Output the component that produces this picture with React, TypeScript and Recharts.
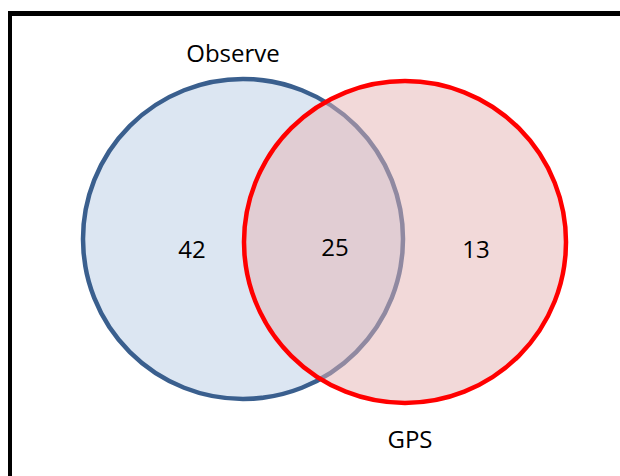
import { ScatterChart, Scatter, XAxis, YAxis } from "recharts";

// chart area, in its own units (1 unit = 1px here)
const W = 608;
const H = 460;

const sets = ["Observe", "GPS"];
const setCenters = [
  { x: 231, y: 223 },
  { x: 393, y: 226 },
];
const setRadius = [160, 161];
const setStroke = ["#3A5F8E", "#FF0000"];
const setFill = ["#DCE6F2", "#E6B4B3"];
const setFillOpacity = [1, 0.5];

const setLabelPos = [
  { x: 221, y: 46 },
  { x: 398, y: 432 },
];

const regionCounts = [42, 25, 13];
const regionPos = [
  { x: 180, y: 242 },
  { x: 323, y: 240 },
  { x: 464, y: 242 },
];

const circles = sets.map((name, i) => ({
  name,
  x: setCenters[i].x,
  y: setCenters[i].y,
  r: setRadius[i],
  stroke: setStroke[i],
  fill: setFill[i],
  fillOpacity: setFillOpacity[i],
}));

const setLabels = sets.map((name, i) => ({ text: name, ...setLabelPos[i] }));
const countLabels = regionCounts.map((v, i) => ({ text: String(v), ...regionPos[i] }));

const FONT = "'Open Sans', sans-serif";

type ShapeProps = {
  cx?: number;
  cy?: number;
  payload?: any;
};

function CircleShape({ cx = 0, cy = 0, payload }: ShapeProps) {
  return (
    <circle
      cx={cx}
      cy={cy}
      r={payload.r}
      fill={payload.fill}
      fillOpacity={payload.fillOpacity}
      stroke={payload.stroke}
      strokeWidth={4.5}
    />
  );
}

function TextShape({ cx = 0, cy = 0, payload }: ShapeProps) {
  return (
    <text x={cx} y={cy} textAnchor="middle" fontFamily={FONT} fontSize={24} fill="#000">
      {payload.text}
    </text>
  );
}

export default function App() {
  return (
    <div
      style={{
        position: "fixed",
        left: 8,
        top: 11,
        right: 0,
        bottom: 0,
        borderTop: "5px solid #000",
        borderLeft: "4px solid #000",
        background: "#fff",
      }}
    >
      <ScatterChart width={W} height={H} margin={{ top: 0, right: 0, bottom: 0, left: 0 }}>
        <XAxis type="number" dataKey="x" domain={[0, W]} hide />
        <YAxis type="number" dataKey="y" domain={[0, H]} reversed hide />
        <Scatter data={[circles[0]]} shape={CircleShape} isAnimationActive={false} />
        <Scatter data={[circles[1]]} shape={CircleShape} isAnimationActive={false} />
        <Scatter data={setLabels} shape={TextShape} isAnimationActive={false} />
        <Scatter data={countLabels} shape={TextShape} isAnimationActive={false} />
      </ScatterChart>
    </div>
  );
}
